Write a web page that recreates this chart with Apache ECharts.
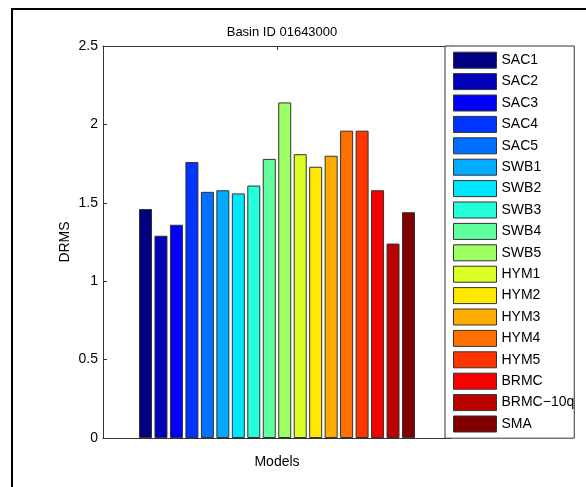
<!DOCTYPE html>
<html>
<head>
<meta charset="utf-8">
<script src="https://cdn.jsdelivr.net/npm/echarts@6/dist/echarts.min.js"></script>
<style>
html,body{margin:0;padding:0;background:#fff;}
#chart{width:586px;height:487px;}
</style>
</head>
<body>
<div id="chart"></div>
<script>
var models = ['SAC1','SAC2','SAC3','SAC4','SAC5','SWB1','SWB2','SWB3','SWB4','SWB5','HYM1','HYM2','HYM3','HYM4','HYM5','BRMC','BRMC\u221210q','SMA'];
var drms = [1.46, 1.29, 1.36, 1.76, 1.57, 1.58, 1.56, 1.61, 1.78, 2.14, 1.81, 1.73, 1.80, 1.96, 1.96, 1.58, 1.24, 1.44];
var colors = ['#000080','#0000BB','#0000F7','#0035FF','#0070FF','#00ACFF','#00E8FF','#25FFD9','#61FF9D','#9DFF61','#D9FF25','#FFE800','#FFAC00','#FF7000','#FF3500','#F70000','#BB0000','#800000'];
var yTicks = [0, 0.5, 1, 1.5, 2, 2.5];
var xCategory = ['Models'];

var FONT = "'Liberation Sans', Arial, sans-serif";
var chart = echarts.init(document.getElementById('chart'), null, {renderer: 'canvas'});

var series = models.map(function (name, i) {
  return {
    name: name,
    type: 'bar',
    data: [drms[i]],
    barWidth: 13,
    barGap: '19%',
    itemStyle: {color: colors[i], borderColor: '#333', borderWidth: 1},
    emphasis: {disabled: true},
    animation: false
  };
});

chart.setOption({
  backgroundColor: '#fff',
  animation: false,
  title: {
    text: 'Basin ID 01643000',
    left: 277, top: 21,
    textAlign: 'center',
    textStyle: {fontFamily: FONT, fontSize: 13, fontWeight: 'normal', color: '#000'}
  },
  graphic: [{
    type: 'rect', z: 100, silent: true,
    shape: {x: 12, y: 9, width: 620, height: 520},
    style: {fill: 'none', stroke: '#000', lineWidth: 2}
  }],
  grid: {left: 103, top: 46, width: 348, height: 392, show: false},
  xAxis: [{
    type: 'category', data: xCategory, position: 'bottom',
    axisLine: {onZero: false, lineStyle: {color: '#333', width: 1}},
    axisTick: {inside: true, alignWithLabel: true, length: 4, lineStyle: {color: '#333'}},
    axisLabel: {show: false},
    name: 'Models', nameLocation: 'middle', nameGap: 17, nameMoveOverlap: false,
    nameTextStyle: {fontFamily: FONT, fontSize: 14, color: '#000'}
  }, {
    type: 'category', data: xCategory, position: 'top',
    axisLine: {show: true, onZero: false, lineStyle: {color: '#333', width: 1}},
    axisTick: {show: true, inside: true, alignWithLabel: true, length: 4, lineStyle: {color: '#333'}},
    axisLabel: {show: false}
  }],
  yAxis: [{
    type: 'value', min: yTicks[0], max: yTicks[yTicks.length - 1], interval: 0.5,
    position: 'left',
    axisLine: {show: true, onZero: false, lineStyle: {color: '#333', width: 1}},
    axisTick: {show: true, inside: true, length: 4, lineStyle: {color: '#333'}},
    splitLine: {show: false},
    axisLabel: {fontFamily: FONT, fontSize: 14, color: '#000', margin: 5},
    name: 'DRMS', nameLocation: 'middle', nameRotate: 90, nameGap: 31, nameMoveOverlap: false,
    nameTextStyle: {fontFamily: FONT, fontSize: 14, color: '#000'}
  }, {
    type: 'value', min: 0, max: 2.5, interval: 0.5, position: 'right',
    axisLine: {show: true, onZero: false, lineStyle: {color: '#333', width: 1}},
    axisTick: {show: true, inside: true, length: 4, lineStyle: {color: '#333'}},
    splitLine: {show: false},
    axisLabel: {show: false}
  }],
  legend: {
    orient: 'vertical',
    left: 445, top: 46,
    data: models,
    icon: 'rect',
    itemWidth: 43, itemHeight: 16, itemGap: 4.4,
    padding: [5.7, 0, 5.7, 8],
    backgroundColor: '#fff',
    borderColor: '#333', borderWidth: 1, borderRadius: 0,
    selectedMode: false,
    z: 50,
    textStyle: {fontFamily: FONT, fontSize: 14, color: '#000', padding: [0, 0, 0, 0], lineHeight: 16},
    itemStyle: {borderColor: '#333', borderWidth: 1}
  },
  series: series
});
</script>
</body>
</html>
